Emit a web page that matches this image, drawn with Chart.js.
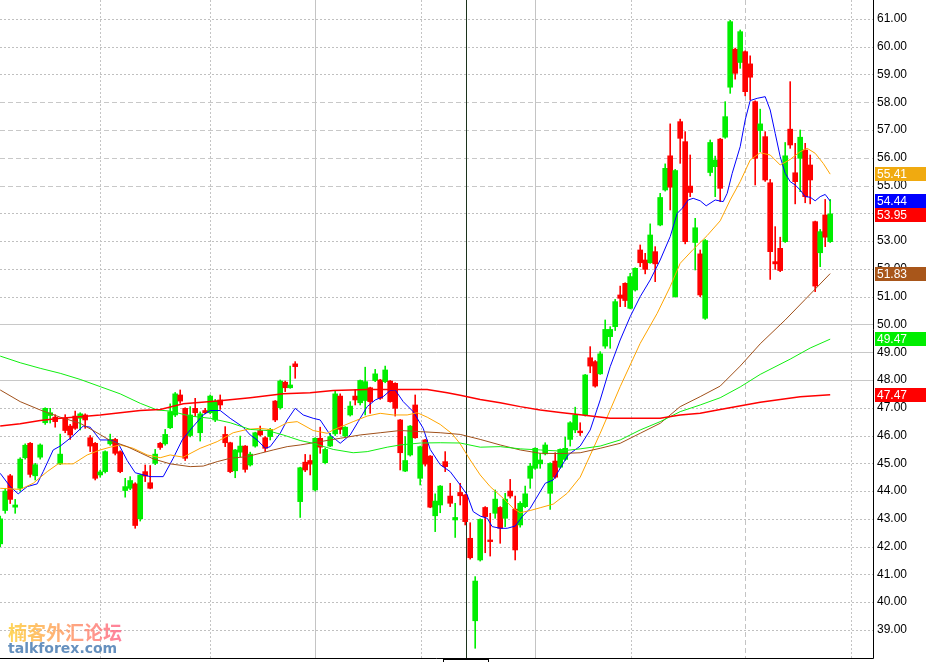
<!DOCTYPE html>
<html>
<head>
<meta charset="utf-8">
<script src="https://cdn.jsdelivr.net/npm/chart.js@4.4.0/dist/chart.umd.min.js"></script>
<style>
  html, body { margin: 0; padding: 0; background: #fff; overflow: hidden; }
  #wrap { width: 928px; height: 662px; }
</style>
</head>
<body>
<div id="wrap"><canvas id="chart" width="928" height="662"></canvas></div>
<script>
// candles, one per session
const opens  = [42.1,43.3,44.55,43.42,44.1,45.2,45.72,44.55,45.22,46.46,46.72,46.66,44.98,46.62,46.34,46.7,46.62,46.74,45.92,45.72,44.58,44.7,45.7,45.86,45.42,44.02,44.1,44.26,43.0,44.7,44.3,45.0,45.72,45.7,46.28,46.74,47.46,46.98,46.0,46.98,46.1,46.9,46.82,46.56,47.28,46.04,45.74,44.73,45.4,45.62,44.94,45.62,46.18,45.92,45.96,47.24,47.0,47.92,47.72,48.58,43.62,45.04,45.1,44.04,45.9,45.02,45.62,46.06,47.42,45.98,46.74,47.42,47.18,47.26,47.72,47.98,48.0,47.94,47.96,47.88,46.56,44.72,45.3,47.1,44.46,45.84,45.26,43.11,43.5,45.06,43.82,42.96,43.95,43.86,42.3,39.33,41.52,43.41,42.24,43.2,43.41,43.02,44.0,43.35,42.78,43.44,44.46,44.82,44.98,45.34,43.92,45.08,44.86,45.14,45.86,46.2,46.16,46.74,48.8,48.66,48.22,49.22,49.56,49.92,51.06,51.48,50.58,51.24,52.68,52.32,52.22,52.62,53.58,54.84,56.07,51.0,57.3,56.58,54.98,52.95,52.54,50.22,55.47,55.68,56.67,56.74,58.54,59.91,59.43,59.82,59.38,58.02,56.98,56.76,55.1,52.26,52.74,52.98,57.03,55.46,55.98,56.28,55.74,53.7,52.58,53.94,52.98];
const highs  = [43.1,44.1,44.6,43.7,45.2,45.7,45.75,45.0,45.7,47.0,46.98,46.75,46.05,46.75,46.4,46.88,46.82,46.78,46.0,45.75,44.75,45.45,46.05,45.9,45.45,44.46,44.52,44.3,44.6,44.94,44.92,45.5,45.75,46.22,47.14,47.55,47.64,47.0,47.04,47.34,46.85,46.98,47.46,47.3,47.46,46.32,45.76,45.5,45.98,45.64,45.4,46.12,46.34,45.96,46.26,47.26,48.0,47.96,48.5,48.66,44.86,45.32,45.3,45.92,46.3,45.55,46.08,47.62,47.5,46.32,47.22,47.66,48.0,48.46,47.74,48.38,48.02,48.5,47.98,47.9,46.58,45.96,46.36,47.46,45.62,45.86,45.28,43.9,44.2,45.42,44.28,43.56,44.28,43.88,42.86,40.92,43.0,43.44,43.2,44.04,43.44,43.92,44.42,43.82,43.62,44.18,45.0,45.56,45.36,45.74,45.02,45.38,45.52,45.94,46.5,47.02,46.46,48.2,49.2,48.7,49.02,50.16,49.92,50.9,51.38,51.5,51.84,52.04,52.86,52.56,53.62,52.8,54.72,55.78,57.22,55.58,57.39,56.94,56.1,53.82,52.68,53.06,56.64,56.06,56.7,58.02,60.95,59.95,60.6,59.85,59.67,58.05,57.75,56.94,55.22,53.52,53.14,56.55,58.74,56.52,57.0,56.52,56.1,53.72,53.42,54.5,54.5];
const lows   = [42.0,43.2,43.55,43.2,44.0,45.15,44.5,44.4,45.15,46.4,46.45,46.3,44.95,46.1,45.86,46.22,46.2,46.26,45.42,44.4,44.5,44.65,45.65,45.3,44.66,43.78,44.05,42.66,42.92,44.34,44.08,44.95,45.5,45.65,46.25,46.68,47.16,45.1,45.95,46.68,45.8,46.78,46.78,46.5,46.94,45.6,44.66,44.48,45.24,44.68,44.9,45.58,45.98,45.42,45.84,46.5,46.95,47.58,47.7,48.06,43.05,44.7,44.58,44.0,45.36,44.98,45.6,46.0,46.06,45.95,46.7,47.1,47.1,46.74,46.8,47.94,47.3,47.9,47.2,46.7,44.76,44.7,45.26,45.9,44.22,44.9,43.4,42.54,43.22,44.7,43.44,42.33,43.5,42.78,41.55,38.34,41.48,41.78,41.66,43.02,42.12,42.72,43.75,41.52,42.7,43.4,44.1,44.78,44.82,45.3,43.34,44.46,44.82,45.1,45.62,46.1,46.0,46.7,48.26,47.74,48.2,49.14,49.14,49.78,50.64,50.64,50.56,51.2,52.08,51.82,52.2,51.54,53.55,54.8,54.12,50.98,55.8,52.9,54.6,51.96,51.0,50.18,55.35,54.6,54.42,56.7,58.32,58.83,59.22,58.23,58.08,55.02,56.22,55.15,51.62,51.98,51.9,52.95,56.34,54.34,54.78,54.38,54.34,51.18,52.08,52.8,52.95];
const closes = [43.0,44.0,43.7,43.5,45.15,45.65,44.6,44.95,45.66,46.98,46.82,46.5,45.33,46.18,46.02,46.26,46.78,46.56,45.62,44.46,44.69,45.42,45.86,45.36,44.7,44.16,44.38,42.76,44.58,44.54,44.1,45.33,45.57,46.04,46.86,47.5,47.24,45.18,46.74,46.82,46.78,46.82,47.42,47.24,47.1,45.74,44.7,45.48,45.62,44.78,45.33,46.1,46.02,45.54,46.22,46.56,47.96,47.72,47.82,48.48,44.84,44.76,44.97,45.9,45.58,45.5,45.96,47.5,46.22,46.3,47.06,47.28,47.98,47.94,47.22,48.22,47.34,48.36,47.22,46.98,45.38,45.1,46.34,45.92,45.6,44.97,43.42,43.64,44.18,44.88,43.56,43.05,43.83,42.9,41.6,40.76,42.98,43.08,42.18,43.71,42.66,43.71,43.82,41.88,43.56,43.9,44.9,45.54,45.12,45.66,45.0,44.5,45.5,45.54,46.46,46.74,46.1,48.18,48.5,47.78,48.94,49.82,49.82,50.82,50.94,50.86,51.72,52.02,52.22,51.98,53.22,52.18,54.57,55.62,54.94,55.54,56.7,52.98,54.75,53.48,51.06,53.02,56.55,55.92,54.9,57.48,60.9,59.04,60.54,58.38,58.9,55.98,57.22,55.2,52.62,52.18,51.94,56.07,56.46,55.14,56.74,54.6,55.2,51.38,53.34,53.14,53.98];

// moving averages: position (session) and value
const blueX = [0,2,3.6,5.4,7.4,8.6,10.6,12,14.4,16.6,18,20,22,23.6,25.4,27,30,32.6,34.6,36.4,38,40.6,42,44,46,48.6,50,51.4,53,54,56,57.4,59,60.6,62.6,64,66,68,70,71.6,73.4,75,76.6,78,79,80.6,82.6,84.6,86,88,90,92,93.4,94.6,96,97.4,98.4,100,101.4,103,104.4,106,107.6,109,110.6,112,113.6,116,118,120,122,124,126,128,130,132,134,135.4,136.4,137.6,138.6,140,141.2,143,144.6,145.4,146.4,148,149,150,151.4,153,154,155,156,157,158,159,160,161,162,163,164,165,166];
const blueY = [44.64,44.16,43.9,44.16,44.26,44.7,45.48,45.62,45.96,46.34,46.3,45.84,45.84,45.72,45.1,44.66,44.52,44.52,45.18,45.84,46.2,46.74,46.9,46.9,46.62,46.3,46.02,45.84,45.54,45.6,46.08,46.56,46.98,46.74,46.62,46.56,46.02,45.72,46.02,46.5,47.04,47.28,47.4,47.62,47.64,47.22,46.86,46.26,45.5,44.95,44.7,44.22,43.86,43.26,43.1,43.02,42.72,42.66,42.66,42.74,43.08,43.38,43.86,44.28,44.4,44.82,45.3,45.62,46.2,47.28,48.48,49.44,50.28,51.0,51.6,52.32,53.16,54.0,54.18,54.48,54.54,54.45,54.27,54.48,54.42,54.72,55.44,56.4,57.36,58.06,58.14,58.2,57.72,56.88,56.04,55.44,55.14,55.02,54.84,54.6,54.58,54.45,54.6,54.68,54.44];
const orangeX = [0,4,6.6,9.4,11.6,14.6,17.4,20,22,24,26.6,29.4,32,34,36.6,40,43.4,46.6,49.4,52,54.6,57.4,59.4,62.6,65.4,66.6,70.6,73.4,76,78.6,81.4,83.4,85.4,88,90.4,92,94,96,98,100.6,102.6,104,106,108,110.6,113.4,116,120,124,128,131.4,134,136,138.6,141.4,144,146,148,150,152,154,156,158,160,161.4,163,164.6,166];
const orangeY = [44.1,44.06,44.28,44.7,44.98,44.98,45.3,45.48,45.58,45.66,45.54,45.3,45.2,45.3,45.22,45.54,45.78,46.1,46.22,46.26,46.2,46.46,46.5,46.18,46.08,46.2,46.5,46.7,46.8,46.74,46.74,46.82,46.66,46.4,46.06,45.7,45.12,44.58,44.16,43.74,43.38,43.22,43.3,43.4,43.53,43.92,44.5,46.08,47.76,49.32,50.4,51.36,52.2,52.7,53.2,53.73,54.48,55.14,55.92,56.18,56.1,55.74,55.94,56.22,56.34,56.16,55.8,55.41];
const brownX = [0,4,8,12,16,18.6,22,25.4,28,30.6,34,38,40.6,43.4,46,49.4,52,54.6,57.4,60,64,68,72,76,80,84,88,92,96,100,104,108,112,116,120,124,128,132,136,140,144,148,152,157,161,166];
const brownY = [47.64,47.22,46.92,46.66,46.44,46.18,45.82,45.6,45.38,45.16,44.98,44.88,44.9,45.06,45.18,45.24,45.36,45.48,45.6,45.66,45.78,45.9,46.02,46.1,46.18,46.14,46.1,46.04,45.86,45.66,45.48,45.36,45.35,45.38,45.54,45.72,46.08,46.44,47.04,47.4,47.78,48.5,49.3,50.16,50.9,51.83];
const greenX = [0,4,8,12,16,20,24,28,31.4,34,38,42,46,50,53.4,56.6,60,62.6,66.6,70.6,73.4,77.4,80,84,88,92,96,100,104,108,112,116,120,124,128,132,136,140,144,148,152,158,162,166];
const greenY = [48.86,48.62,48.42,48.24,48.02,47.76,47.5,47.16,46.92,46.88,46.7,46.62,46.46,46.22,46.18,46.02,45.82,45.72,45.5,45.38,45.42,45.58,45.66,45.73,45.74,45.73,45.58,45.6,45.52,45.48,45.44,45.52,45.62,45.84,46.2,46.5,46.86,47.1,47.36,47.75,48.2,48.75,49.15,49.47];
const redX = [0,4,8,12,16,20,24,28,32,36.6,43.4,50,56.6,62,66.6,73.4,80,85.4,89.4,92,96,100,104,108,112,116,122,132,136,140,144,152,160,166];
const redY = [46.34,46.42,46.54,46.62,46.68,46.74,46.82,46.9,46.94,47.14,47.24,47.36,47.5,47.54,47.62,47.66,47.66,47.66,47.54,47.45,47.3,47.18,47.04,46.92,46.83,46.75,46.62,46.62,46.74,46.8,46.94,47.2,47.4,47.47];

// right axis labels and the last-value tags
const yTicks = [39,40,41,42,43,44,45,46,47,48,49,50,51,52,53,54,55,56,57,58,59,60,61];
const tagValues = [55.41, 54.44, 53.95, 51.83, 49.47, 47.47];
const tagColors = ['#F0AA10', '#0000FF', '#FF0000', '#A8561A', '#00EE00', '#FF0000'];

const UP = '#00EE00', DOWN = '#FF0000';
const candleColors = closes.map((c, i) => c >= opens[i] ? UP : DOWN);
const wickData = closes.map((c, i) => ({ x: i, y: [lows[i], highs[i]] }));
const bodyData = closes.map((c, i) => ({ x: i, y: [opens[i], c] }));
const pts = (xs, ys) => xs.map((x, i) => ({ x: x, y: ys[i] }));

function maLine(label, xs, ys, color, width) {
    return {
        type: 'line', label: label, data: pts(xs, ys),
        borderColor: color, borderWidth: width, pointRadius: 0,
        tension: 0, fill: false, order: 0
    };
}

const backdrop = {
    id: 'backdrop',
    beforeDatasetsDraw(chart) {
        const ctx = chart.ctx, a = chart.chartArea, y = chart.scales.y, x = chart.scales.x;
        ctx.save();
        ctx.lineWidth = 1;
        // horizontal grid, styles differ per level like the source
        yTicks.forEach(v => {
            const py = Math.round(y.getPixelForValue(v)) + 0.5;
            if (v >= 48 && v <= 50) { ctx.setLineDash([]); ctx.strokeStyle = '#c8c8c8'; }
            else if (v >= 55 && v <= 58) { ctx.setLineDash([5, 3]); ctx.strokeStyle = '#c8c8c8'; }
            else { ctx.setLineDash([2, 2]); ctx.strokeStyle = '#c0c0c0'; }
            ctx.beginPath(); ctx.moveTo(a.left, py); ctx.lineTo(a.right, py); ctx.stroke();
        });
        // vertical date separators
        const seps = [[19.96, 'dot'], [41.96, 'dot'], [62.96, 'solid'], [84.16, 'dot'],
                      [106.96, 'solid'], [126.16, 'dot'], [148.96, 'dash'], [170.16, 'dot']];
        seps.forEach(([v, s]) => {
            const px = Math.round(x.getPixelForValue(v)) + 0.5;
            ctx.strokeStyle = '#c4c4c4';
            ctx.setLineDash(s === 'dot' ? [2, 2] : s === 'dash' ? [5, 3] : []);
            ctx.beginPath(); ctx.moveTo(px, a.top); ctx.lineTo(px, a.bottom); ctx.stroke();
        });
        // crosshair
        ctx.setLineDash([]);
        ctx.strokeStyle = '#1c331c';
        const cx = Math.round(x.getPixelForValue(93.16)) + 0.5;
        ctx.beginPath(); ctx.moveTo(cx, a.top); ctx.lineTo(cx, a.bottom); ctx.stroke();

        // watermark
        ctx.globalAlpha = 0.85;
        const g = ctx.createLinearGradient(8, 0, 122, 0);
        g.addColorStop(0, '#FFCF3A');
        g.addColorStop(1, '#FF6A8C');
        ctx.fillStyle = g;
        ctx.font = 'bold 19px "Noto Sans CJK SC"';
        ctx.textBaseline = 'alphabetic';
        ctx.fillText('楠客外汇论坛', 8, 640);
        ctx.fillStyle = '#4A7DB3';
        ctx.font = 'bold 14px "DejaVu Sans"';
        ctx.fillText('talkforex.com', 8, 653);
        ctx.restore();
    },
    afterDraw(chart) {
        const ctx = chart.ctx, a = chart.chartArea, y = chart.scales.y;
        ctx.save();
        // frame
        ctx.strokeStyle = '#000';
        ctx.lineWidth = 1;
        ctx.beginPath();
        ctx.moveTo(a.left, a.bottom + 0.5); ctx.lineTo(a.right + 0.5, a.bottom + 0.5);
        ctx.moveTo(a.right + 0.5, a.top); ctx.lineTo(a.right + 0.5, a.bottom + 0.5);
        ctx.stroke();
        // date box peeking below the crosshair
        ctx.fillStyle = '#fff';
        ctx.fillRect(443.5, a.bottom + 1.5, 45, 6);
        ctx.strokeRect(443.5, a.bottom + 1.5, 45, 6);
        // last-value tags
        ctx.font = '12px "Liberation Sans"';
        ctx.textBaseline = 'middle';
        tagValues.forEach((v, i) => {
            const py = Math.round(y.getPixelForValue(v));
            ctx.fillStyle = tagColors[i];
            ctx.fillRect(a.right + 2, py - 7, 51, 14);
            ctx.fillStyle = '#fff';
            ctx.fillText(v.toFixed(2), a.right + 4, py + 1);
        });
        ctx.restore();
    }
};

new Chart(document.getElementById('chart'), {
    type: 'bar',
    data: {
        datasets: [
            maLine('MA red', redX, redY, '#FF0000', 1.5),
            maLine('MA green', greenX, greenY, '#11EE11', 1),
            maLine('MA brown', brownX, brownY, '#A0501A', 1),
            maLine('MA orange', orangeX, orangeY, '#FFA500', 1),
            maLine('MA blue', blueX, blueY, '#0000FF', 1),
            {
                label: 'bodies', data: bodyData, backgroundColor: candleColors,
                barThickness: 5, minBarLength: 1, borderWidth: 0, grouped: false, order: 1
            },
            {
                label: 'wicks', data: wickData, backgroundColor: candleColors,
                barThickness: 1, borderWidth: 0, grouped: false, order: 2
            }
        ]
    },
    options: {
        responsive: false,
        animation: false,
        devicePixelRatio: 1,
        layout: { padding: { left: 0, top: 0, right: 0, bottom: 4 } },
        plugins: { legend: { display: false }, tooltip: { enabled: false } },
        scales: {
            x: {
                type: 'linear', display: false, offset: false,
                min: -0.04, max: 174.56
            },
            y: {
                type: 'linear', position: 'right',
                min: 37.99, max: 61.68,
                grid: { display: false, drawTicks: false },
                border: { display: false },
                ticks: {
                    includeBounds: false, padding: 4, color: '#000',
                    font: { family: 'Liberation Sans', size: 12 },
                    callback: v => v.toFixed(2)
                },
                afterBuildTicks: s => { s.ticks = yTicks.map(v => ({ value: v })); },
                afterFit: s => { s.width = 55; s.paddingTop = 0; s.paddingBottom = 0; }
            }
        }
    },
    plugins: [backdrop]
});
</script>
</body>
</html>
